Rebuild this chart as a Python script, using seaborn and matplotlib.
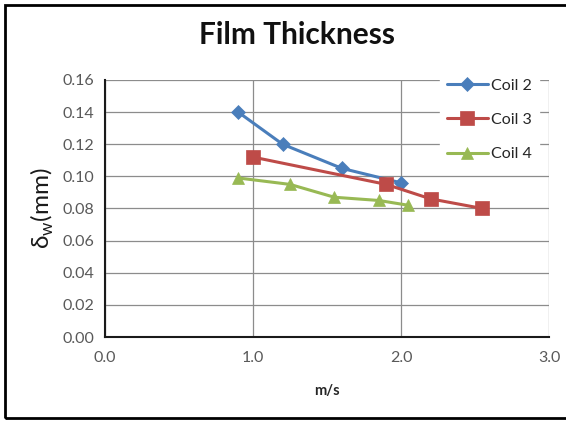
import matplotlib
matplotlib.use("Agg")
import matplotlib.pyplot as plt
import seaborn as sns
import pandas as pd
from matplotlib.patches import Rectangle

coil2_x = [0.9, 1.2, 1.6, 2.0]
coil2_y = [0.140, 0.120, 0.105, 0.096]
coil3_x = [1.0, 1.9, 2.2, 2.55]
coil3_y = [0.112, 0.095, 0.086, 0.080]
coil4_x = [0.9, 1.25, 1.55, 1.85, 2.05]
coil4_y = [0.099, 0.095, 0.087, 0.085, 0.082]
series_names = ["Coil 2", "Coil 3", "Coil 4"]
y_ticks = [0.00, 0.02, 0.04, 0.06, 0.08, 0.10, 0.12, 0.14, 0.16]
x_ticks = [0.0, 1.0, 2.0, 3.0]

rows = []
for name, xs, ys in zip(series_names, [coil2_x, coil3_x, coil4_x], [coil2_y, coil3_y, coil4_y]):
    for x, y in zip(xs, ys):
        rows.append({"speed": x, "thickness": y, "coil": name})
df = pd.DataFrame(rows)

sns.set_style("white")
plt.rcParams['font.family'] = ['Lato', 'DejaVu Sans']

fig = plt.figure(figsize=(5.66, 4.23), dpi=100)
ax = fig.add_axes([0.1855, 0.2033, 0.7845, 0.6076])

palette = {"Coil 2": "#4A7EBB", "Coil 3": "#BE4B48", "Coil 4": "#98B954"}
markers = {"Coil 2": "D", "Coil 3": "s", "Coil 4": "^"}
sizes_m = {"Coil 2": 7, "Coil 3": 9.5, "Coil 4": 9}

for name in series_names:
    sub = df[df["coil"] == name]
    sns.lineplot(data=sub, x="speed", y="thickness", ax=ax, color=palette[name],
                 marker=markers[name], markersize=sizes_m[name], linewidth=2.2,
                 markeredgewidth=0.5, markeredgecolor=palette[name],
                 sort=False, label=name, estimator=None)

ax.set_xlim(0, 3.0)
ax.set_ylim(0, 0.16)
ax.set_xticks(x_ticks)
ax.set_xticklabels([f"{v:.1f}" for v in x_ticks])
ax.set_yticks(y_ticks)
ax.set_yticklabels([f"{v:.2f}" for v in y_ticks])
ax.tick_params(axis='both', labelsize=11.5, colors="#595959", length=0)
ax.tick_params(axis='y', pad=8)
ax.tick_params(axis='x', pad=10)
ax.grid(True, color="#8C8C8C", linewidth=0.9)
ax.set_axisbelow(True)
for s in ["top", "right"]:
    ax.spines[s].set_visible(False)
for s in ["left", "bottom"]:
    ax.spines[s].set_color("#1a1a1a")
    ax.spines[s].set_linewidth(1.5)

ax.set_xlabel("m/s", fontsize=10.5, fontweight="bold", color="#262626", labelpad=14)
ax.set_ylabel("δ$_{\\mathregular{w}}$(mm)", fontsize=17.5, color="#1a1a1a", labelpad=4)
fig.text(0.525, 0.917, "Film Thickness", ha="center", va="center",
         fontsize=21.5, fontweight="bold", color="#111111")

leg = ax.legend(loc="upper left", bbox_to_anchor=(0.755, 1.03), frameon=True,
                fontsize=11.5, handlelength=2.6, labelspacing=1.25, borderpad=0.4,
                handletextpad=0.2, borderaxespad=0)
leg.get_frame().set_facecolor("white")
leg.get_frame().set_edgecolor("white")
leg.get_frame().set_alpha(1)
for t in leg.get_texts():
    t.set_color("#262626")

fig.patches.append(Rectangle((5/566, 5/423), 1.2, (418-5)/423, transform=fig.transFigure,
                             fill=False, edgecolor="black", linewidth=2))

fig.savefig("out.png", dpi=100)
